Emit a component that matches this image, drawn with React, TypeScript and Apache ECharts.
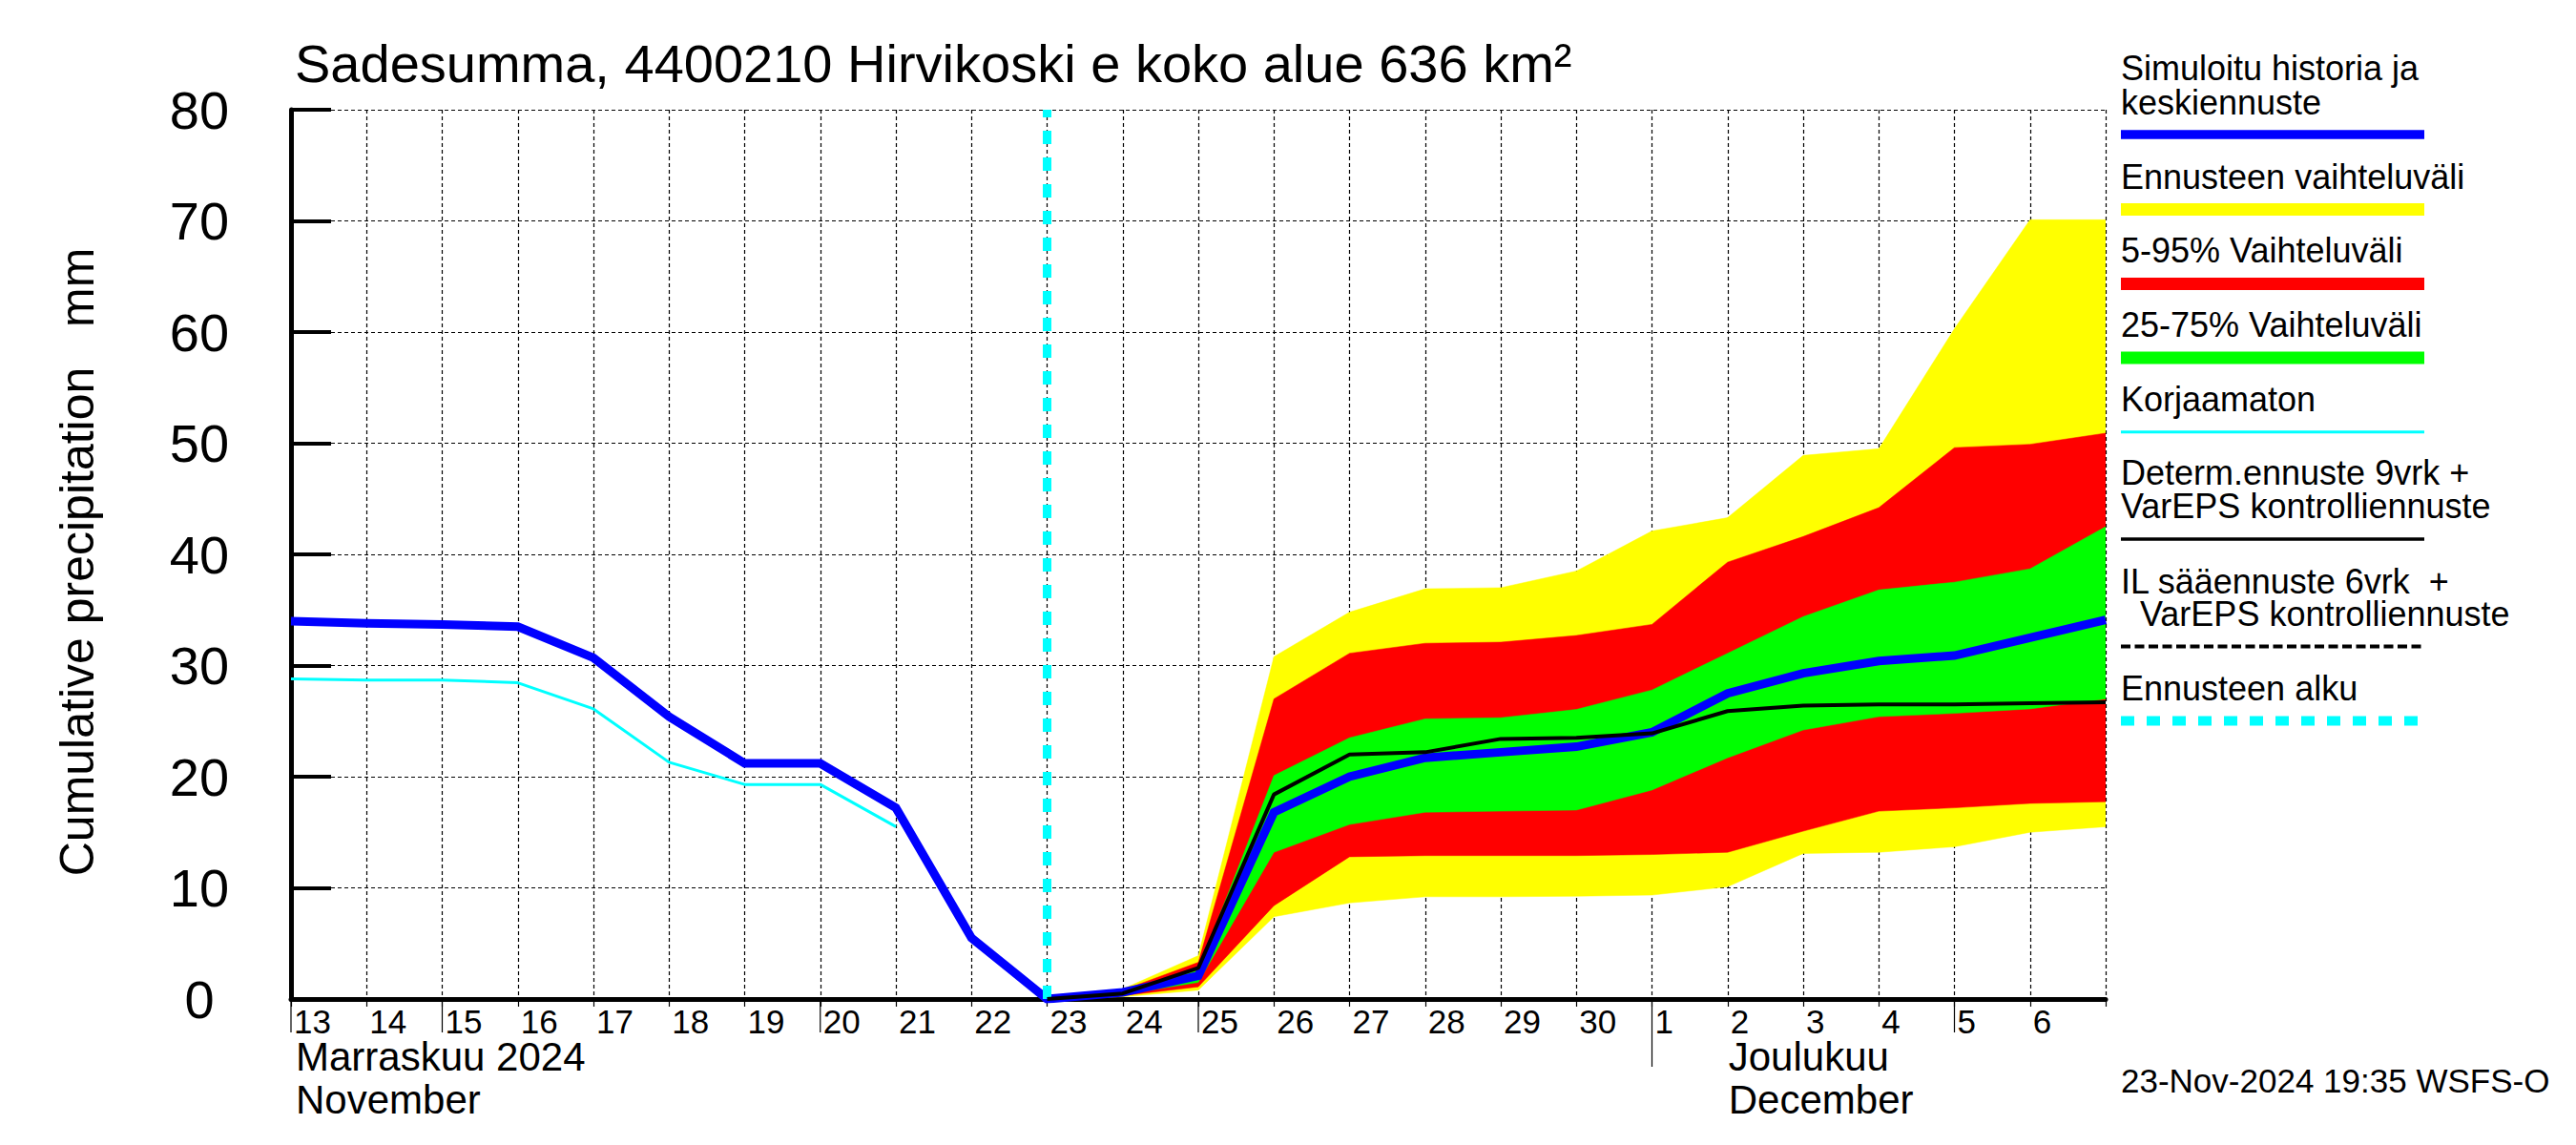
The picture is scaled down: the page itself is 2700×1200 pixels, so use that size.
import React, { useEffect, useRef } from 'react';
import * as echarts from 'echarts';

const FONT = '"Liberation Sans", Arial, Helvetica, sans-serif';

// x index 0 = 13 Nov 2024 00:00, one unit per day, 24 = 7 Dec
const dayLabels = ['13', '14', '15', '16', '17', '18', '19', '20', '21', '22', '23', '24', '25', '26', '27', '28', '29', '30', '1', '2', '3', '4', '5', '6'];
const forecastStart = 10; // 23 Nov
const monthStartIndex = 18; // 1 Dec
const longTickIndex = [0, 2, 7, 12, 22];

// simulated history (13..23 Nov) + mean forecast (23 Nov..7 Dec)
const blueHistory = [34.0, 33.8, 33.7, 33.5, 30.7, 25.4, 21.2, 21.2, 17.2, 5.5, 0];
const blueForecast = [0, 0.6, 2.1, 16.8, 20.0, 21.7, 22.2, 22.7, 24.0, 27.5, 29.3, 30.4, 30.9, 32.5, 34.1];
// uncorrected history (13..21 Nov)
const cyanHistory = [28.8, 28.7, 28.7, 28.45, 26.1, 21.3, 19.3, 19.3, 15.5];
// deterministic forecast (23 Nov..7 Dec)
const determ = [0, 0.5, 2.8, 18.4, 22.0, 22.2, 23.4, 23.5, 23.9, 25.9, 26.4, 26.5, 26.5, 26.6, 26.7];
// forecast bands (23 Nov..7 Dec)
const yellowLo = [0, 0.2, 0.8, 7.4, 8.65, 9.2, 9.2, 9.25, 9.35, 10.1, 13.1, 13.2, 13.7, 15.0, 15.5];
const yellowHi = [0, 0.9, 3.9, 30.8, 34.8, 36.9, 37.0, 38.5, 42.1, 43.3, 48.9, 49.5, 60.3, 70.1, 70.1];
const redLo = [0, 0.3, 1.1, 8.4, 12.8, 12.9, 12.9, 12.9, 13.0, 13.2, 15.1, 16.9, 17.2, 17.6, 17.75];
const redHi = [0, 0.8, 3.3, 27.0, 31.1, 32.0, 32.1, 32.7, 33.7, 39.3, 41.6, 44.2, 49.6, 49.9, 50.9];
const greenLo = [0, 0.4, 1.5, 13.2, 15.7, 16.8, 16.9, 17.0, 18.8, 21.7, 24.2, 25.4, 25.7, 26.1, 27.0];
const greenHi = [0, 0.7, 2.6, 20.1, 23.5, 25.2, 25.3, 26.05, 27.8, 31.1, 34.4, 36.8, 37.5, 38.7, 42.5];

const titleText = 'Sadesumma, 4400210 Hirvikoski e koko alue 636 km²';
const yAxisTitle = 'Cumulative precipitation   mm';
const monthLabelNov = 'Marraskuu 2024\nNovember';
const monthLabelDec = 'Joulukuu\nDecember';
const stampText = '23-Nov-2024 19:35 WSFS-O';

export default function App() {
  const ref = useRef<HTMLDivElement>(null);

  useEffect(() => {
    document.body.style.margin = '0';
    const chart = echarts.init(ref.current!, null, { renderer: 'svg' });

    const fcX = blueForecast.map((_, k) => forecastStart + k);
    const blueData = [
      ...blueHistory.map((v, i) => [i, v]),
      ...blueForecast.slice(1).map((v, k) => [fcX[k + 1], v]),
    ];
    const cyanData = cyanHistory.map((v, i) => [i, v]);
    const determData = determ.map((v, k) => [fcX[k], v]);

    const band = (id: string, lo: number[], hi: number[], color: string) => ({
      name: id, type: 'custom', silent: true, z: 2, clip: true,
      data: lo.map((v, k) => [fcX[k], v, hi[k]]),
      encode: { x: 0, y: [1, 2] },
      renderItem: (params: any, api: any) => {
        if (params.dataIndex !== 0) return null;
        const top = hi.map((v, k) => api.coord([fcX[k], v]));
        const bottom = lo.map((v, k) => api.coord([fcX[k], v])).reverse();
        return {
          type: 'polygon',
          shape: { points: [...top, ...bottom] },
          style: { fill: color, stroke: color, lineWidth: 0.5 },
        };
      },
    });

    const gridDash = { color: '#000', width: 1.2, type: [4, 3] as any };

    chart.setOption({
      animation: false,
      backgroundColor: '#fff',
      grid: { left: 305, top: 115, width: 1902, height: 932, containLabel: false },
      xAxis: {
        type: 'value', min: 0, max: 24, interval: 1,
        axisLine: { show: true, onZero: false, lineStyle: { color: '#000', width: 5 } },
        axisTick: { show: true, inside: false, length: 8, lineStyle: { color: '#000', width: 1.2 } },
        splitLine: { show: true, lineStyle: gridDash },
        axisLabel: {
          show: true, margin: 8, align: 'left', padding: [0, 0, 0, 3], lineHeight: 30,
          fontFamily: FONT, fontSize: 35, color: '#000',
          formatter: (v: number) => (dayLabels[Math.round(v)] ?? ''),
        },
      },
      yAxis: {
        type: 'value', min: 0, max: 80, interval: 10,
        axisLine: { show: true, lineStyle: { color: '#000', width: 5 } },
        axisTick: { show: true, inside: true, length: 42, lineStyle: { color: '#000', width: 4 } },
        splitLine: { show: true, lineStyle: gridDash },
        axisLabel: {
          show: true, margin: 96, align: 'center',
          fontFamily: FONT, fontSize: 56, color: '#000',
        },
      },
      series: [
        band('yellow', yellowLo, yellowHi, '#ffff00'),
        band('red', redLo, redHi, '#ff0000'),
        band('green', greenLo, greenHi, '#00ff00'),
        {
          name: 'Korjaamaton', type: 'line', data: cyanData, symbol: 'none', z: 3,
          lineStyle: { color: '#00ffff', width: 3 },
        },
        {
          name: 'Simuloitu', type: 'line', data: blueData, symbol: 'none', z: 4,
          lineStyle: { color: '#0000ff', width: 9, join: 'miter' },
        },
        {
          name: 'Determ', type: 'line', data: determData, symbol: 'none', z: 5,
          lineStyle: { color: '#000', width: 4 },
          markLine: {
            silent: true, symbol: ['none', 'none'], label: { show: false },
            lineStyle: { color: '#00ffff', width: 9, type: [14, 14] as any },
            data: [{ xAxis: forecastStart }],
          },
        },
      ],
    });

    const px = (x: number, y: number) => chart.convertToPixel({ gridIndex: 0 }, [x, y]) as number[];
    const axisY = px(0, 0)[1];

    const txt = (text: string, x: number, y: number, size: number, extra: any = {}) => ({
      type: 'text', x, y, silent: true, z: 10,
      style: { text, fill: '#000', fontFamily: FONT, fontSize: size, align: 'left', verticalAlign: 'middle', ...extra },
    });

    const lx0 = 2223;
    const lx1 = 2541;
    const legendRect = (cy: number, h: number, color: string) => ({
      type: 'rect', silent: true, z: 10,
      shape: { x: lx0, y: cy - h / 2, width: lx1 - lx0, height: h },
      style: { fill: color },
    });
    const legendLine = (cy: number, w: number, color: string, dash?: number[]) => ({
      type: 'line', silent: true, z: 10,
      shape: { x1: lx0, y1: cy, x2: lx1, y2: cy },
      style: { stroke: color, lineWidth: w, lineDash: dash || null, lineCap: 'butt' },
    });

    const tickLines = [
      ...longTickIndex.map((i) => {
        const x = px(i, 0)[0];
        return { type: 'line', silent: true, shape: { x1: x, y1: axisY, x2: x, y2: axisY + 35 }, style: { stroke: '#000', lineWidth: 1.2 } };
      }),
      (() => {
        const x = px(monthStartIndex, 0)[0];
        return { type: 'line', silent: true, shape: { x1: x, y1: axisY, x2: x, y2: axisY + 71 }, style: { stroke: '#000', lineWidth: 1.2 } };
      })(),
    ];

    const novX = px(0, 0)[0] + 5;
    const decX = px(monthStartIndex + 1, 0)[0] + 1;

    chart.setOption({
      graphic: [
        txt(titleText, 309, 66, 56),
        {
          type: 'text', x: 81, y: 589, rotation: Math.PI / 2, silent: true,
          style: { text: yAxisTitle, fill: '#000', fontFamily: FONT, fontSize: 50, align: 'center', verticalAlign: 'middle' },
        },
        ...tickLines,
        txt(monthLabelNov, novX, 1130, 42, { lineHeight: 45 }),
        txt(monthLabelDec, decX, 1130, 42, { lineHeight: 45 }),
        txt(stampText, 2223, 1132, 35),
        // legend
        txt('Simuloitu historia ja\nkeskiennuste', lx0, 89, 36, { lineHeight: 36 }),
        legendRect(141, 9.5, '#0000ff'),
        txt('Ennusteen vaihteluväli', lx0, 185, 36),
        legendRect(219.5, 13, '#ffff00'),
        txt('5-95% Vaihteluväli', lx0, 262, 36),
        legendRect(297.5, 13, '#ff0000'),
        txt('25-75% Vaihteluväli', lx0, 340, 36),
        legendRect(375, 13, '#00ff00'),
        txt('Korjaamaton', lx0, 418, 36),
        legendLine(452.8, 3, '#00ffff'),
        txt('Determ.ennuste 9vrk +\nVarEPS kontrolliennuste', lx0, 512.5, 36, { lineHeight: 35 }),
        legendLine(565, 3.5, '#000'),
        txt('IL sääennuste 6vrk  +\n  VarEPS kontrolliennuste', lx0, 626, 36, { lineHeight: 34 }),
        legendLine(677.5, 4, '#000', [10, 4.5]),
        txt('Ennusteen alku', lx0, 721, 36),
        legendLine(755.5, 10, '#00ffff', [14, 13]),
      ],
    });

    return () => chart.dispose();
  }, []);

  return <div ref={ref} style={{ width: 2700, height: 1200, background: '#fff' }} />;
}
